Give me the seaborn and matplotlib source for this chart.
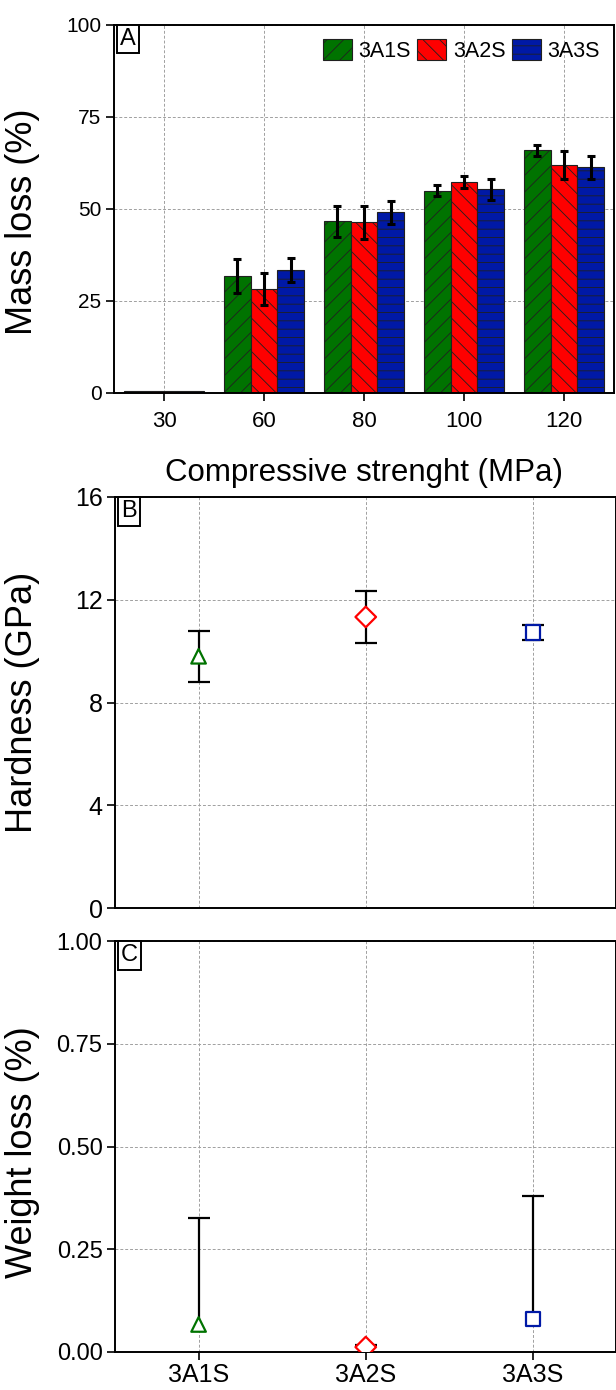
import numpy as np
import pandas as pd
import seaborn as sns
import matplotlib.pyplot as plt
from matplotlib.ticker import FormatStrFormatter

# panel A - mass loss vs compressive strength
strengths = ["30", "60", "80", "100", "120"]
samples = ["3A1S", "3A2S", "3A3S"]
mass_3a1s = [0.6, 31.8, 46.7, 54.9, 66.0]
mass_3a2s = [0.6, 28.3, 46.4, 57.3, 61.9]
mass_3a3s = [0.6, 33.4, 49.1, 55.3, 61.3]
mass_err_3a1s = [0.0, 4.6, 4.2, 1.5, 1.5]
mass_err_3a2s = [0.0, 4.3, 4.5, 1.6, 3.8]
mass_err_3a3s = [0.0, 3.3, 3.2, 2.9, 3.2]

# panel B - hardness
hardness = [9.8, 11.33, 10.72]
hardness_err = [1.0, 1.0, 0.3]

# panel C - weight loss (upper error only)
weight_loss = [0.067, 0.012, 0.080]
weight_err_up = [0.26, 0.004, 0.30]

colors = ["#007300", "#ff0000", "#0019a6"]
hatches = ["//", "\\\\", "--"]
markers = ["^", "D", "s"]

sns.set_theme(style="whitegrid")
plt.rcParams["font.family"] = ["Liberation Sans", "DejaVu Sans"]
plt.rcParams["hatch.linewidth"] = 0.6
plt.rcParams["hatch.color"] = "#151515"
for k in ["text.color", "axes.labelcolor", "xtick.color", "ytick.color"]:
    plt.rcParams[k] = "black"

fig = plt.figure(figsize=(6.16, 13.9), dpi=100)
W, H = 616, 1390
def axes_px(left, right, top, bottom):
    return fig.add_axes([left / W, 1 - bottom / H, (right - left) / W, (bottom - top) / H])

axA = axes_px(114, 614, 25, 393)
axB = axes_px(115, 616.5, 497, 908)
axC = axes_px(115, 616.5, 941, 1352)

YLABEL_FS = 26

def style_axis(ax, ysize, xsize):
    ax.set_facecolor("white")
    for s in ax.spines.values():
        s.set_color("black")
        s.set_linewidth(1.4)
    ax.grid(True, color="#a0a0a0", linestyle=(0, (3, 2)), linewidth=0.7)
    ax.tick_params(axis="both", direction="out", length=6, width=1.2, color="black",
                   left=True, bottom=True, pad=3)
    ax.tick_params(axis="y", labelsize=ysize)
    ax.tick_params(axis="x", labelsize=xsize)
    ax.set_axisbelow(True)

def panel_tag(ax, tag):
    ax.text(0.012, 0.992, tag, transform=ax.transAxes, ha="left", va="top", fontsize=17,
            bbox=dict(boxstyle="square,pad=0.14", fc="white", ec="black", lw=1.4), zorder=5)

# ---- A: grouped bars
df_a = pd.DataFrame({
    "strength": strengths * 3,
    "sample": [s for s in samples for _ in strengths],
    "mass": mass_3a1s + mass_3a2s + mass_3a3s,
})
sns.barplot(data=df_a, x="strength", y="mass", hue="sample", order=strengths,
            hue_order=samples, palette=colors, errorbar=None, legend=False,
            edgecolor="#202020", linewidth=0.8, saturation=1, ax=axA)
errs = [mass_err_3a1s, mass_err_3a2s, mass_err_3a3s]
vals = [mass_3a1s, mass_3a2s, mass_3a3s]
for cont, hatch, v, e in zip(axA.containers, hatches, vals, errs):
    xs = []
    for bar in cont:
        bar.set_hatch(hatch)
        xs.append(bar.get_x() + bar.get_width() / 2)
    xs, v, e = np.array(xs), np.array(v), np.array(e)
    m = e > 0
    axA.errorbar(xs[m], v[m], yerr=e[m], fmt="none", ecolor="black", elinewidth=2.2,
                 capsize=3, capthick=2.2, zorder=4)
axA.legend(handles=list(axA.containers), labels=samples, loc="upper right", ncol=3,
           frameon=False, fontsize=15.5, handlelength=1.35, handleheight=1.15,
           columnspacing=0.3, handletextpad=0.3, borderaxespad=0.25)
style_axis(axA, 15, 16)
axA.tick_params(axis="x", pad=7)
axA.set_ylim(0, 100)
axA.set_yticks([0, 25, 50, 75, 100])
axA.set_xlim(-0.5, 4.5)
axA.set_ylabel("Mass loss (%)", fontsize=YLABEL_FS)
axA.set_xlabel("Compressive strenght (MPa)", fontsize=22.5, labelpad=19)
axA.yaxis.set_label_coords(-0.148, 0.465)
panel_tag(axA, "A")

# ---- B and C: points with error bars
def point_panel(ax, values, err_low, err_high, ylim, yticks, ysize, hide_low_caps=False):
    x = np.arange(len(samples))
    eb = ax.errorbar(x, values, yerr=[err_low, err_high], fmt="none", ecolor="black",
                     elinewidth=1.6, capsize=8, capthick=1.6, zorder=3)
    if hide_low_caps:
        for cl in eb[1]:
            if np.allclose(cl.get_ydata(), values):
                cl.set_visible(False)
    d = pd.DataFrame({"sample": samples, "value": values})
    sns.scatterplot(data=d, x="sample", y="value", hue="sample", style="sample",
                    hue_order=samples, palette=colors, markers=dict(zip(samples, markers)),
                    s=110, linewidth=1.6, legend=False, zorder=4, ax=ax)
    coll = ax.collections[-1]
    coll.set_edgecolors(coll.get_facecolors())
    coll.set_facecolors("white")
    style_axis(ax, ysize, 18)
    ax.set_xlim(-0.5, 2.5)
    ax.set_ylim(*ylim)
    ax.set_yticks(yticks)
    ax.set_xlabel("")

point_panel(axB, hardness, hardness_err, hardness_err, (0, 16), [0, 4, 8, 12, 16], 18)
axB.tick_params(axis="x", labelbottom=False, bottom=False)
axB.set_ylabel("Hardness (GPa)", fontsize=YLABEL_FS)
axB.yaxis.set_label_coords(-0.15, 0.5)
panel_tag(axB, "B")

point_panel(axC, weight_loss, [0, 0, 0], weight_err_up, (0, 1), [0, 0.25, 0.5, 0.75, 1.0], 17,
            hide_low_caps=True)
axC.yaxis.set_major_formatter(FormatStrFormatter("%.2f"))
axC.set_ylabel("Weight loss (%)", fontsize=YLABEL_FS)
axC.yaxis.set_label_coords(-0.15, 0.487)
axC.tick_params(axis="x", pad=2)
panel_tag(axC, "C")

fig.savefig("out.png", dpi=100)
